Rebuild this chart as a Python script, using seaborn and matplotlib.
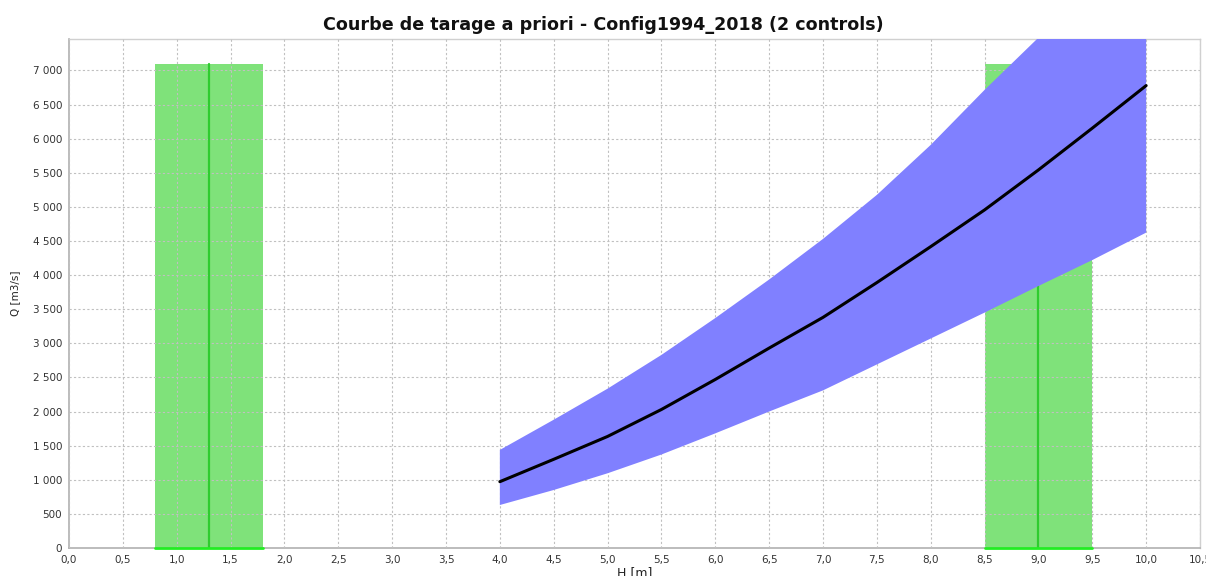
import numpy as np
import pandas as pd
import matplotlib
matplotlib.use("Agg")
import matplotlib.pyplot as plt
import matplotlib.ticker as mticker
import seaborn as sns

# Rating curve (a priori): stage H [m], discharge Q [m3/s]
h = [4.0, 4.5, 5.0, 5.5, 6.0, 6.5, 7.0, 7.5, 8.0, 8.5, 9.0, 9.5, 10.0]
q_median = [972, 1300, 1635, 2030, 2470, 2930, 3380, 3890, 4417, 4955, 5541, 6153, 6777]
q_low = [630, 850, 1095, 1370, 1680, 2000, 2310, 2690, 3070, 3450, 3840, 4220, 4622]
q_high = [1437, 1880, 2335, 2830, 3370, 3935, 4530, 5175, 5908, 6714, 7480, 8300, 9150]

# Hydraulic controls: activation stage prior (centre and +/- half width)
ctrl_center = [1.3, 9.0]
ctrl_halfwidth = [0.5, 0.5]
ctrl_height = 7100

df = pd.DataFrame({"H": h, "Q": q_median})

sns.set_style("whitegrid")
plt.rcParams["font.family"] = ["DejaVu Sans"]

fig = plt.figure(figsize=(12.06, 5.76), dpi=100)
ax = fig.add_axes([69 / 1206, 1 - 548 / 576, (1200 - 69) / 1206, (548 - 39) / 576])

green_fill = "#7fe27a"
green_line = "#2fcc2f"
for c, w in zip(ctrl_center, ctrl_halfwidth):
    ax.bar(c, ctrl_height, width=2 * w, color=green_fill, edgecolor="none", zorder=1)
    ax.plot([c, c], [0, ctrl_height], color=green_line, lw=1.6, zorder=2.6)
    ax.plot([c - w, c + w], [0, 0], color="#22ee22", lw=2.0, zorder=2.6, clip_on=False)

ax.fill_between(h, q_low, q_high, color="#8080ff", linewidth=0, zorder=3)
sns.lineplot(data=df, x="H", y="Q", color="black", lw=2.2, ax=ax, zorder=4)

ax.set_xlim(0, 10.5)
ax.set_ylim(0, 7460)
ax.xaxis.set_major_locator(mticker.MultipleLocator(0.5))
ax.yaxis.set_major_locator(mticker.MultipleLocator(500))
ax.xaxis.set_major_formatter(mticker.FuncFormatter(lambda v, p: f"{v:.1f}".replace(".", ",")))
ax.yaxis.set_major_formatter(mticker.FuncFormatter(lambda v, p: f"{int(v):,}".replace(",", " ")))

ax.grid(True, color="#c0c0c0", linestyle=(0, (2, 2)), linewidth=0.8)
ax.set_axisbelow(False)

for s in ["top", "right"]:
    ax.spines[s].set_color("#d0d0d0")
    ax.spines[s].set_linewidth(1.0)
for s in ["left", "bottom"]:
    ax.spines[s].set_color("#b0b0b0")
    ax.spines[s].set_linewidth(1.2)

ax.tick_params(axis="both", labelsize=7.5, colors="#333333", length=3, width=0.8,
               direction="out", pad=2)
ax.tick_params(axis="both", color="#999999")

ax.set_xlabel("H [m]", fontsize=9, color="#222222", labelpad=1)
ax.set_ylabel("Q [m3/s]", fontsize=7.5, color="#222222", labelpad=9)
fig.text(0.5, 1 - 25 / 576, "Courbe de tarage a priori - Config1994_2018 (2 controls)",
         fontsize=12.6, fontweight="bold", ha="center", va="center", color="#111111")

fig.savefig("out.png", dpi=100, facecolor="white")
